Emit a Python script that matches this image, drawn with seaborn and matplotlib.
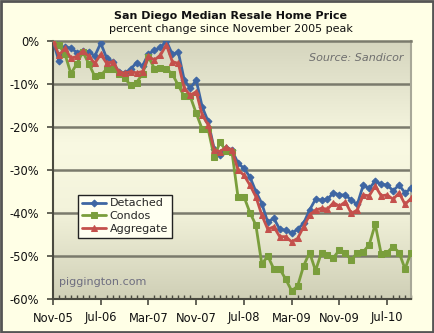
import numpy as np
import pandas as pd
import matplotlib
matplotlib.use("Agg")
import matplotlib.pyplot as plt
from matplotlib.colors import LinearSegmentedColormap
from matplotlib.patches import Rectangle
import seaborn as sns

# ---- data (percent change since Nov-2005), monthly Nov-05 .. Nov-10 ----
detached = [0, -4.7, -1.5, -1.6, -2.7, -2.3, -2.5, -3.5, -0.5, -4.0,
            -4.8, -7.1, -7.4, -6.6, -5.0, -5.8, -3.0, -2.2, -1.5, 0.0,
            -3.1, -2.6, -9.1, -11.0, -9.1, -15.3, -18.7, -25.0, -26.5, -24.8,
            -25.4, -28.4, -29.6, -31.6, -35.0, -37.8, -42.2, -41.2, -43.8, -44.0,
            -44.7, -43.8, -42.4, -39.3, -36.8, -37.0, -36.8, -35.3, -35.8, -35.8,
            -37.0, -38.0, -33.5, -34.3, -32.6, -33.3, -33.5, -34.8, -33.5, -35.3,
            -34.3]
condos = [0, -1.0, -3.0, -7.6, -5.3, -2.5, -5.3, -8.2, -8.0, -6.5,
          -6.4, -7.6, -8.6, -10.3, -9.7, -7.6, -3.7, -6.4, -6.2, -6.4,
          -7.7, -10.3, -12.9, -12.9, -16.8, -20.5, -20.5, -26.9, -23.6, -25.5,
          -25.9, -36.2, -36.2, -39.9, -42.8, -51.9, -50.0, -53.0, -53.0, -55.4,
          -58.1, -57.0, -52.3, -49.2, -53.4, -49.2, -49.8, -50.4, -48.6, -49.4,
          -50.9, -49.2, -49.0, -47.4, -42.6, -49.5, -49.2, -47.8, -49.2, -53.0,
          -49.2]
aggregate = [0, -3.3, -1.7, -4.0, -3.6, -2.3, -3.6, -5.2, -3.1, -5.2,
             -4.8, -7.1, -7.5, -7.1, -7.4, -7.1, -3.6, -4.4, -3.3, -0.9,
             -4.8, -5.2, -11.0, -12.6, -11.8, -17.2, -19.5, -25.3, -25.7, -24.7,
             -25.3, -30.0, -31.2, -33.5, -36.2, -40.5, -43.8, -43.2, -45.5, -45.5,
             -46.7, -45.9, -43.2, -40.5, -39.3, -38.9, -39.1, -37.6, -38.4, -37.4,
             -40.1, -39.3, -35.8, -36.0, -33.7, -36.0, -35.8, -36.8, -35.3, -38.0,
             -36.6]
series_names = ["Detached", "Condos", "Aggregate"]
tick_labels = ["Nov-05", "Jul-06", "Mar-07", "Nov-07", "Jul-08", "Mar-09", "Nov-09", "Jul-10"]
y_ticks = [0, -10, -20, -30, -40, -50, -60]

months = np.arange(len(detached))
df = pd.DataFrame({"month": months, "Detached": detached,
                   "Condos": condos, "Aggregate": aggregate})

colors = {"Detached": "#3E66A3", "Condos": "#7A9E3C", "Aggregate": "#C4504C"}
markers = {"Detached": "D", "Condos": "s", "Aggregate": "^"}
msize = {"Detached": 3.5, "Condos": 4.5, "Aggregate": 4.5}

sns.set_theme(style="white")
plt.rcParams["font.family"] = ["DejaVu Sans"]

fig = plt.figure(figsize=(4.34, 3.33), dpi=100)
fig.patch.set_facecolor("#FFFFE6")
ax = fig.add_axes([53 / 434, 1 - 299 / 333, (411 - 53) / 434, (299 - 41) / 333])

# gradient plot background
cmap = LinearSegmentedColormap.from_list(
    "bg", [(0.0, "#CFCFB6"), (0.35, "#F3F3DB"), (0.6, "#F9F9E2"), (1.0, "#D5D5BE")])
grad = np.linspace(0, 1, 256).reshape(-1, 1)
ax.imshow(grad, extent=[0, 1, 0, 1], transform=ax.transAxes, aspect="auto",
          cmap=cmap, origin="lower", zorder=0)

for name in series_names:
    sns.lineplot(data=df, x="month", y=name, ax=ax, color=colors[name],
                 marker=markers[name], markersize=msize[name],
                 markeredgecolor=colors[name], linewidth=2.0, label=name,
                 zorder=3)

ax.set_xlim(0, len(detached) - 1)
ax.set_ylim(-60, 0)
ax.set_yticks(y_ticks)
ax.set_yticklabels([f"{v}%" for v in y_ticks])
ax.set_xticks(np.arange(0, len(detached), 8))
ax.set_xticklabels(tick_labels)
ax.set_xticks(months, minor=True)
ax.set_xlabel("")
ax.set_ylabel("")

for v in y_ticks[1:-1]:
    ax.axhline(v, color="#7A7A6C", linewidth=1.8, zorder=1)

for side in ["top"]:
    ax.spines[side].set_color("#7A7A6C")
    ax.spines[side].set_linewidth(1.8)
ax.spines["right"].set_color("#A8A898")
ax.spines["right"].set_linewidth(1.5)
ax.spines["left"].set_color("#4A4A40")
ax.spines["left"].set_linewidth(1.5)
ax.spines["bottom"].set_color("#4A4A40")
ax.spines["bottom"].set_linewidth(1.5)

ax.tick_params(axis="y", which="major", length=4, width=1.2, color="#4A4A40",
               direction="out", pad=6, labelsize=8.3, labelcolor="#111111", left=True)
ax.tick_params(axis="x", which="major", length=4, width=1.2, color="#4A4A40",
               direction="out", pad=5, labelsize=8.3, labelcolor="#111111", bottom=True)
ax.tick_params(axis="x", which="minor", length=3, width=1.0, color="#4A4A40",
               direction="in", bottom=True)

leg = ax.legend(loc="upper left", bbox_to_anchor=(0.07, 0.405), frameon=True,
                fontsize=8, handlelength=2.2, handletextpad=0.3,
                borderpad=0.35, labelspacing=0.25, fancybox=False,
                borderaxespad=0)
leg.get_frame().set_facecolor("#FFFFF0")
leg.get_frame().set_edgecolor("#222222")
leg.get_frame().set_linewidth(1.0)
leg.get_frame().set_alpha(1)
leg.set_zorder(5)

ax.text(0.98, 0.955, "Source: Sandicor", transform=ax.transAxes, ha="right",
        va="top", fontsize=8, style="italic", color="#6E6E6E")
ax.text(0.018, 0.045, "piggington.com", transform=ax.transAxes, ha="left",
        va="bottom", fontsize=8, color="#6E6E80")

fig.text(0.532, 1 - 16 / 333, "San Diego Median Resale Home Price", ha="center",
         va="center", fontsize=8, fontweight="bold", color="#111111")
fig.text(0.532, 1 - 29 / 333, "percent change since November 2005 peak", ha="center",
         va="center", fontsize=8, color="#111111")

fig.patches.append(Rectangle((0.002, 0.003), 0.996, 0.994, transform=fig.transFigure,
                             fill=False, edgecolor="#555555", linewidth=2.0))

fig.savefig("out.png", dpi=100, facecolor=fig.get_facecolor())
